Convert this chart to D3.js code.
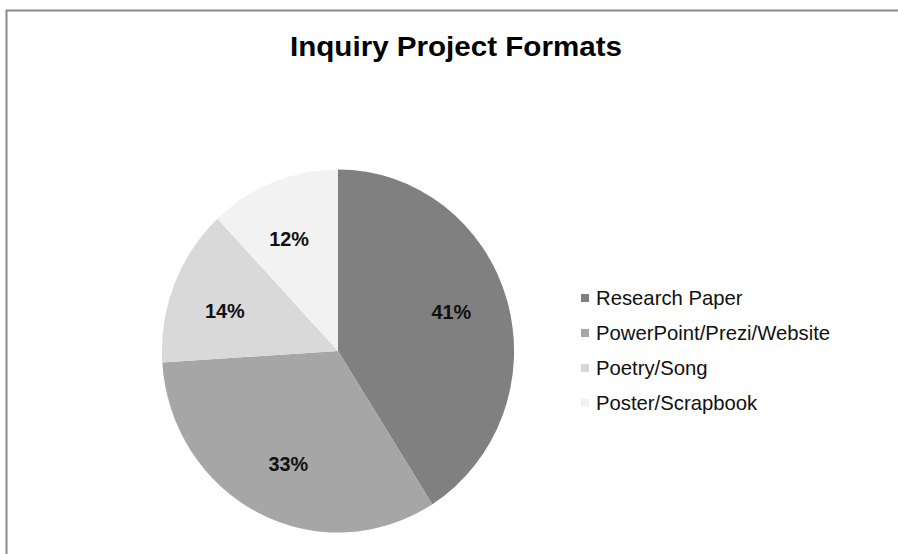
<!DOCTYPE html>
<html>
<head>
<meta charset="utf-8">
<script src="https://cdn.jsdelivr.net/npm/d3@7"></script>
<style>
  body { margin: 0; background: #fff; }
  svg { display: block; font-family: "Liberation Sans", Arial, sans-serif; }
</style>
</head>
<body>
<svg width="898" height="554"></svg>
<script>
const categories = ['Research Paper', 'PowerPoint/Prezi/Website', 'Poetry/Song', 'Poster/Scrapbook'];
const values = [41, 33, 14, 12];
const colors = ['#808080', '#a6a6a6', '#d9d9d9', '#f2f2f2'];

const svg = d3.select('svg');

// chart frame, runs off the right and bottom edges
svg.append('rect')
    .attr('x', 6.5).attr('y', 10.5)
    .attr('width', 920).attr('height', 600)
    .attr('fill', '#fff')
    .attr('stroke', '#8a8a8a')
    .attr('stroke-width', 2);

svg.append('text')
    .attr('x', 456).attr('y', 56)
    .attr('text-anchor', 'middle')
    .attr('font-size', 27)
    .attr('font-weight', 'bold')
    .attr('textLength', 332)
    .attr('lengthAdjust', 'spacingAndGlyphs')
    .text('Inquiry Project Formats');

const data = categories.map((c, i) => ({name: c, value: values[i], color: colors[i]}));

const radius = 181.5;
const pie = d3.pie().sort(null).value(d => d.value);
const arc = d3.arc().innerRadius(0).outerRadius(radius);
const labelArc = d3.arc().innerRadius(radius * 0.68).outerRadius(radius * 0.68);

const g = svg.append('g')
    .attr('transform', 'translate(338,351) scale(0.97,1)');

const arcs = pie(data);

g.selectAll('path')
    .data(arcs).enter()
    .append('path')
        .attr('d', arc)
        .attr('fill', d => d.data.color);

// Excel nudges the labels a little counter-clockwise
const shift = -2.5 * Math.PI / 180;
g.selectAll('text')
    .data(arcs).enter()
    .append('text')
        .attr('transform', d => `translate(${labelArc.centroid({startAngle: d.startAngle + shift, endAngle: d.endAngle + shift})})`)
        .attr('text-anchor', 'middle')
        .attr('dy', '0.36em')
        .attr('font-size', 20.5)
        .attr('font-weight', 'bold')
        .attr('fill', '#111')
        .text(d => d.data.value + '%');

const legend = svg.append('g')
    .attr('transform', 'translate(581,298)');

const rows = legend.selectAll('g')
    .data(data).enter()
    .append('g')
        .attr('transform', (d, i) => `translate(0,${i * 35})`);

rows.append('rect')
    .attr('x', 0).attr('y', -4)
    .attr('width', 8).attr('height', 8)
    .attr('fill', d => d.color);

rows.append('text')
    .attr('x', 15).attr('y', 0)
    .attr('dy', '0.35em')
    .attr('font-size', 20.3)
    .attr('fill', '#111')
    .text(d => d.name);
</script>
</body>
</html>
